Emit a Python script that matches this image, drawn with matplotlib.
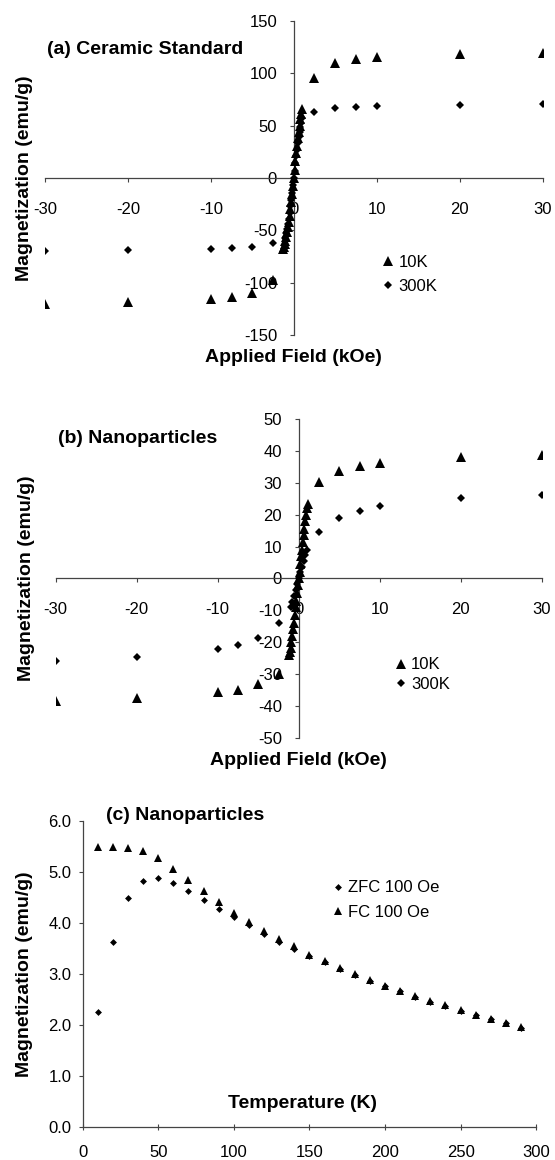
import numpy as np
import matplotlib
matplotlib.use("Agg")
import matplotlib.pyplot as plt

plt.rcParams['font.family'] = ['Liberation Sans', 'DejaVu Sans']
plt.rcParams['axes.unicode_minus'] = False

# ---- (a) ceramic standard, M vs H ----
a_10k_H = [-30, -20, -10, -7.5, -5, -2.5,
           -1.3, -1.2, -1.1, -1.0, -0.9, -0.8, -0.7, -0.6, -0.5, -0.4, -0.3, -0.2, -0.1,
           0, 0.1, 0.2, 0.3, 0.4, 0.5, 0.6, 0.7, 0.8, 0.9, 1.0,
           2.5, 5, 7.5, 10, 20, 30]
a_10k_M = [-120, -118, -116, -114, -110, -97,
           -68, -66, -63, -60, -56, -52, -47, -42, -36, -30, -23, -15, -8,
           0, 8, 16, 24, 31, 38, 44, 50, 56, 61, 66,
           96, 110, 114, 116, 118.5, 119.5]
a_300k_H = [-30, -20, -10, -7.5, -5, -2.5,
            -1.0, -0.9, -0.8, -0.7, -0.6, -0.5, -0.4, -0.3, -0.2, -0.1,
            0, 0.1, 0.2, 0.3, 0.4, 0.5, 0.6, 0.7, 0.8, 0.9, 1.0,
            2.5, 5, 7.5, 10, 20, 30]
a_300k_M = [-70, -69, -68, -67, -66, -62,
            -57, -53, -49, -44, -39, -33, -27, -21, -14, -7,
            0, 7, 14, 21, 27, 33, 39, 44, 49, 53, 57,
            63, 67, 68, 68.5, 70, 71]

# ---- (b) nanoparticles, M vs H ----
b_10k_H = [-30, -20, -10, -7.5, -5, -2.5,
           -1.2, -1.1, -1.0, -0.9, -0.8, -0.7, -0.6, -0.5, -0.4, -0.3, -0.2, -0.1,
           0, 0.1, 0.2, 0.3, 0.4, 0.5, 0.6, 0.7, 0.8, 0.9, 1.0, 1.1,
           2.5, 5, 7.5, 10, 20, 30]
b_10k_M = [-38.6, -37.5, -35.8, -35.1, -33.3, -30,
           -24, -23, -22, -20, -18, -16, -14, -11.5, -9, -7, -4.5, -2,
           0, 2, 4.5, 7, 9, 11.5, 13.5, 15.5, 18, 20, 22, 23.5,
           30.3, 33.8, 35.3, 36.2, 38.0, 38.9]
b_300k_H = [-30, -20, -10, -7.5, -5, -2.5,
            -1.0, -0.8, -0.6, -0.4, -0.2, 0, 0.2, 0.4, 0.6, 0.8, 1.0,
            2.5, 5, 7.5, 10, 20, 30]
b_300k_M = [-25.8, -24.6, -22.1, -20.8, -18.6, -14.1,
            -9, -7.5, -5.5, -3.7, -1.9, 0, 1.9, 3.7, 5.5, 7.5, 9,
            14.7, 19.0, 21.3, 22.8, 25.2, 26.3]

# ---- (c) nanoparticles, ZFC / FC ----
temps = [10, 20, 30, 40, 50, 60, 70, 80, 90, 100, 110, 120, 130, 140, 150,
         160, 170, 180, 190, 200, 210, 220, 230, 240, 250, 260, 270, 280, 290]
zfc = [2.25, 3.63, 4.49, 4.83, 4.88, 4.79, 4.63, 4.46, 4.28, 4.12, 3.95, 3.78,
       3.63, 3.48, 3.35, 3.23, 3.10, 2.97, 2.87, 2.76, 2.66, 2.55, 2.45, 2.37,
       2.28, 2.19, 2.11, 2.03, 1.94]
fc = [5.50, 5.50, 5.48, 5.41, 5.27, 5.06, 4.84, 4.62, 4.41, 4.20, 4.01, 3.84,
      3.68, 3.54, 3.38, 3.25, 3.12, 2.99, 2.88, 2.77, 2.67, 2.57, 2.47, 2.38,
      2.29, 2.20, 2.12, 2.04, 1.95]

spine_col = '#444444'
tick_fs = 12
lab_fs = 14

fig = plt.figure(figsize=(5.55, 11.6), dpi=100)


def field_axes(rect, ylim, yticks, title, title_y, ylab_x):
    ax = fig.add_axes(rect)
    ax.set_xlim(-30, 30)
    ax.set_ylim(*ylim)
    ax.spines['left'].set_position(('data', 0))
    ax.spines['bottom'].set_position(('data', 0))
    ax.spines['top'].set_visible(False)
    ax.spines['right'].set_visible(False)
    for s in ('left', 'bottom'):
        ax.spines[s].set_color(spine_col)
        ax.spines[s].set_linewidth(0.9)
    ax.set_xticks([-30, -20, -10, 0, 10, 20, 30])
    ax.set_yticks(yticks)
    ax.tick_params(axis='x', direction='out', length=3, width=0.8, color=spine_col,
                   pad=14, labelsize=tick_fs)
    ax.tick_params(axis='y', direction='out', length=3, width=0.8, color=spine_col,
                   pad=9, labelsize=tick_fs)
    ax.set_xlabel('Applied Field (kOe)', fontsize=lab_fs, fontweight='bold')
    ax.xaxis.set_label_coords(0.5, -0.072)
    ax.xaxis.label.set_verticalalignment('center')
    ax.set_ylabel('Magnetization (emu/g)', fontsize=lab_fs, fontweight='bold')
    ax.yaxis.set_label_coords(ylab_x, 0.5)
    ax.yaxis.label.set_verticalalignment('center')
    ax.text(0.004, title_y, title, transform=ax.transAxes, fontsize=lab_fs,
            fontweight='bold', ha='left', va='center')
    return ax


# (a)
ax1 = field_axes([0.0811, 0.7112, 0.8964, 0.2707], (-150, 150),
                 [-150, -100, -50, 0, 50, 100, 150], '(a) Ceramic Standard',
                 0.908, -0.041)
ax1.plot(a_10k_H, a_10k_M, ls='none', marker='^', ms=6.5, color='black',
         mew=0, label='10K', zorder=3)
ax1.plot(a_300k_H, a_300k_M, ls='none', marker='D', ms=4.1, color='black',
         mew=0, label='300K', zorder=3)
ax1.legend(loc='center left', bbox_to_anchor=(0.68, 0.194), frameon=False,
           fontsize=tick_fs, handlelength=0.6, handletextpad=0.3, borderpad=0,
           borderaxespad=0, labelspacing=0.55, numpoints=1)

# (b)
ax2 = field_axes([0.1004, 0.3641, 0.8758, 0.2745], (-50, 50),
                 [-50, -40, -30, -20, -10, 0, 10, 20, 30, 40, 50], '(b) Nanoparticles',
                 0.941, -0.06)
ax2.plot(b_10k_H, b_10k_M, ls='none', marker='^', ms=6.5, color='black',
         mew=0, label='10K', zorder=3)
ax2.plot(b_300k_H, b_300k_M, ls='none', marker='D', ms=4.1, color='black',
         mew=0, label='300K', zorder=3)
ax2.legend(loc='center left', bbox_to_anchor=(0.70, 0.1985), frameon=False,
           fontsize=tick_fs, handlelength=0.6, handletextpad=0.3, borderpad=0,
           borderaxespad=0, labelspacing=0.25, numpoints=1)

# (c)
ax3 = fig.add_axes([0.1488, 0.0287, 0.8173, 0.2635])
ax3.plot(temps, zfc, ls='none', marker='D', ms=3.5, color='black', mew=0,
         label='ZFC 100 Oe', zorder=3)
ax3.plot(temps, fc, ls='none', marker='^', ms=5.2, color='black', mew=0,
         label='FC 100 Oe', zorder=3)
ax3.set_xlim(0, 300)
ax3.set_ylim(0, 6)
ax3.set_xticks([0, 50, 100, 150, 200, 250, 300])
ax3.set_yticks([0, 1, 2, 3, 4, 5, 6])
ax3.set_yticklabels(['%.1f' % v for v in [0, 1, 2, 3, 4, 5, 6]])
ax3.spines['top'].set_visible(False)
ax3.spines['right'].set_visible(False)
for s in ('left', 'bottom'):
    ax3.spines[s].set_color(spine_col)
    ax3.spines[s].set_linewidth(0.9)
ax3.tick_params(axis='x', direction='inout', length=5, width=0.8, color=spine_col,
                pad=11, labelsize=tick_fs)
ax3.tick_params(axis='y', direction='out', length=3, width=0.8, color=spine_col,
                pad=5, labelsize=tick_fs)
ax3.set_xlabel('Temperature (K)', fontsize=lab_fs, fontweight='bold')
ax3.xaxis.set_label_coords(0.485, 0.0775)
ax3.xaxis.label.set_verticalalignment('center')
ax3.set_ylabel('Magnetization (emu/g)', fontsize=lab_fs, fontweight='bold')
ax3.yaxis.set_label_coords(-0.127, 0.5)
ax3.yaxis.label.set_verticalalignment('center')
ax3.text(0.051, 1.0196, '(c) Nanoparticles', transform=ax3.transAxes,
         fontsize=lab_fs, fontweight='bold', ha='left', va='center')
ax3.legend(loc='center left', bbox_to_anchor=(0.552, 0.7417), frameon=False,
           fontsize=tick_fs, handlelength=0.6, handletextpad=0.3, borderpad=0,
           borderaxespad=0, labelspacing=0.55, numpoints=1)

fig.savefig('out.png', dpi=100)
